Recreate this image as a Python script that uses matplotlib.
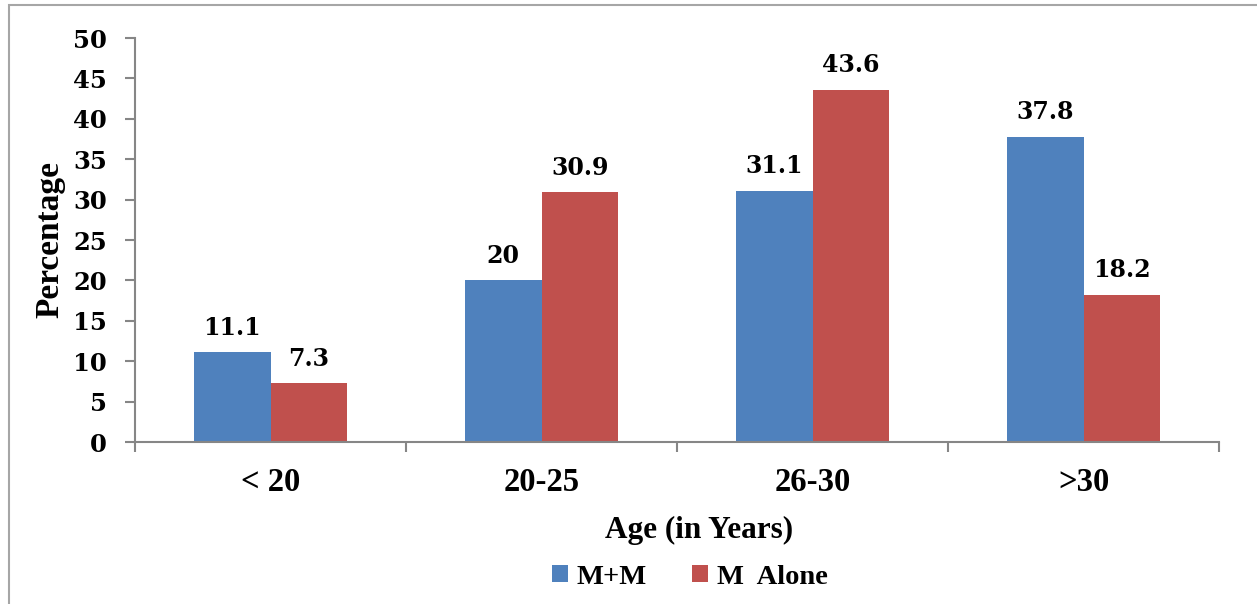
import numpy as np
import matplotlib.pyplot as plt
from matplotlib.patches import Rectangle

# age groups and percentages
age_groups = ['< 20', '20-25', '26-30', '>30']
mm = [11.1, 20, 31.1, 37.8]
m_alone = [7.3, 30.9, 43.6, 18.2]
series_names = ['M+M', 'M  Alone']
colors = ['#4F81BD', '#C0504D']

W, H = 1257, 604
fig = plt.figure(figsize=(W / 100, H / 100), dpi=100)
ax = fig.add_axes([135 / W, (H - 442) / H, (1219 - 135) / W, (442 - 38) / H])

# outer chart border (runs off the right and bottom edges)
fig.patches.append(Rectangle((9 / W, -0.1), 1.2, (H - 5) / H + 0.1, transform=fig.transFigure,
                             fill=False, edgecolor='#a6a6a6', linewidth=1.5))

x = np.arange(len(age_groups))
bw = 0.284
b1 = ax.bar(x - bw / 2, mm, bw, color=colors[0], label=series_names[0])
b2 = ax.bar(x + bw / 2, m_alone, bw, color=colors[1], label=series_names[1])

lab_font = dict(family='DejaVu Serif', weight='bold', size=17)
for bars, vals in [(b1, mm), (b2, m_alone)]:
    for r, v in zip(bars, vals):
        ax.annotate(f'{v:g}', (r.get_x() + r.get_width() / 2, v), xytext=(0, 9),
                    textcoords='offset points', ha='center', va='bottom', **lab_font)

ax.set_xlim(-0.5, 3.5)
ax.set_ylim(0, 50)
ax.set_yticks(range(0, 51, 5))
ax.set_yticklabels([str(v) for v in range(0, 51, 5)],
                   fontdict=dict(family='DejaVu Serif', weight='bold', size=17.5))
ax.set_xticks(np.arange(-0.5, 4, 1))
ax.set_xticklabels([])
ax.set_xticks(x, minor=True)
ax.set_xticklabels(age_groups, minor=True, family='Liberation Serif', weight='bold', fontsize=23.5)
ax.tick_params(axis='x', which='minor', length=0, pad=18)
ax.tick_params(axis='x', which='major', length=7, width=1.5, color='#868686', direction='out')
ax.tick_params(axis='y', length=7, width=1.5, color='#868686', direction='out', pad=13)

for s in ['top', 'right']:
    ax.spines[s].set_visible(False)
for s in ['left', 'bottom']:
    ax.spines[s].set_color('#868686')
    ax.spines[s].set_linewidth(1.5)

ax.set_ylabel('Percentage', family='Liberation Serif', weight='bold', fontsize=24, labelpad=6)
fig.text(699 / W, (H - 530) / H, 'Age (in Years)', ha='center', va='center',
         family='Liberation Serif', weight='bold', fontsize=22.5)

fig.legend(handles=[b1, b2], labels=series_names, loc='center', bbox_to_anchor=(690 / W, (H - 577) / H),
           ncol=2, frameon=False, prop=dict(family='Liberation Serif', weight='bold', size=20.5),
           handlelength=0.55, handleheight=0.55, handletextpad=0.3, columnspacing=1.6)

fig.savefig('out.png', dpi=100)
